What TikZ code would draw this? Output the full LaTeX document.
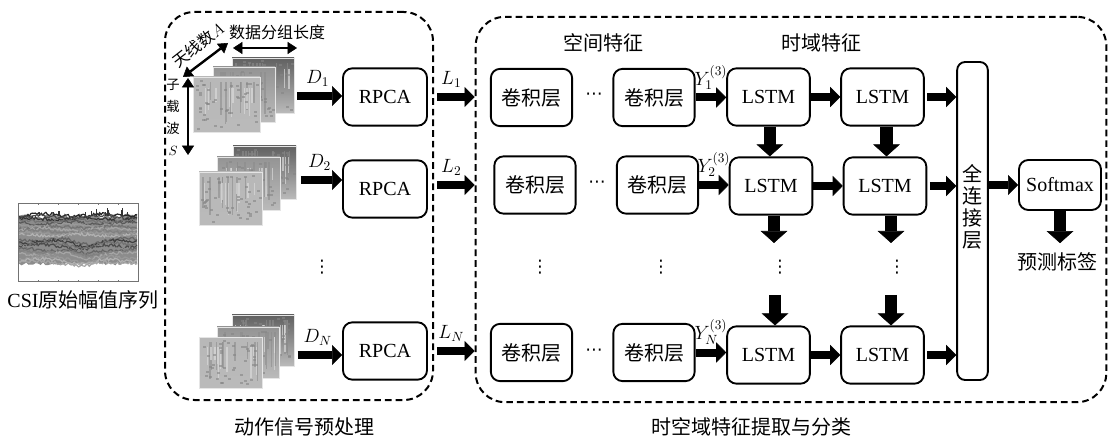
\documentclass[tikz,border=0pt]{standalone}
\usepackage{fontspec}
\setmainfont{Liberation Serif}
\newfontfamily\cjk{Noto Sans CJK SC}
\newfontfamily\symf{DejaVu Sans}
\usetikzlibrary{arrows.meta}

\tikzset{
  txt/.style={font=\fontsize{15}{18}\selectfont, inner sep=0pt},
  small/.style={font=\fontsize{12}{14}\selectfont, inner sep=0pt},
  dotsym/.style={font=\symf\fontsize{13}{15}\selectfont, inner sep=0pt},
  lbl/.style={font=\fontsize{14}{16}\selectfont, inner sep=0pt},
  rbox/.style={draw, line width=1.4pt, rounded corners=7pt, inner sep=0pt,
               font=\fontsize{15}{18}\selectfont},
  procbox/.style={rbox, minimum width=63pt, minimum height=43pt},
  convbox/.style={rbox, minimum width=61pt, minimum height=43pt},
  lstmbox/.style={rbox, minimum width=62pt, minimum height=43pt},
  dbox/.style={draw, line width=1.5pt, dash pattern=on 5pt off 3pt,
               rounded corners=22pt, inner sep=0pt},
  harr/.style={line width=6pt, -{Triangle[length=7.5pt,width=15pt,line width=0.4pt]}},
  varr/.style={line width=9.5pt, -{Triangle[length=9pt,width=20pt,line width=0.4pt]}},
  dblarr/.style={line width=1.8pt,
     {Triangle[length=7pt,width=9pt,line width=0.4pt]}-{Triangle[length=7pt,width=9pt,line width=0.4pt]}},
}

% one grey spectrogram-like panel: top-left corner (#1,#2), width #3, height #4,
% colour of its upper rows #5
\newcommand{\specpanel}[5]{%
  \shade[top color=#5, bottom color=black!27] (#1,#2) rectangle ++(#3,#4);
  \foreach \k in {1,...,9}{%
    \pgfmathsetmacro\spx{#1+3+rnd*(#3-6)}%
    \draw[black!45, line width=1.1pt, opacity=.6] (\spx,{#2+#4*0.1}) -- ++(0,{#4*(0.3+0.5*rnd)});
  }
  \foreach \k in {1,...,10}{%
    \pgfmathsetmacro\spx{#1+3+rnd*(#3-6)}%
    \draw[black!15, line width=1pt, opacity=.7] (\spx,{#2+#4*0.2}) -- ++(0,{#4*(0.2+0.5*rnd)});
  }
  \foreach \k in {1,...,45}{%
    \pgfmathsetmacro\spx{#1+2+rnd*(#3-5)}%
    \pgfmathsetmacro\spy{#2+2+rnd*(#4-5)}%
    \fill[black!48, opacity=.6] (\spx,\spy) rectangle ++(3,2);
  }
  \draw[black!10, line width=0.6pt] (#1,#2) rectangle ++(#3,#4);
}

\begin{document}
\begin{tikzpicture}[x=0.75pt, y=-0.75pt]
\useasboundingbox (0,0) rectangle (1109,441);
\pgfmathsetseed{11}

% ---------- raw CSI amplitude plot ----------
\begin{scope}
  \clip (19,204) rectangle (137,281);
  \fill[black!45] plot[domain=19:137, samples=50] (\x,{216+3*rand})
        -- plot[domain=137:19, samples=50] (\x,{264+1.5*rand}) -- cycle;
  \foreach \k/\c in {0/black!85,1/black!70,2/black!80,3/black!55,4/black!65,5/black!40,
                     6/black!55,7/black!35,8/black!50,9/black!40,10/black!30,11/black!45,
                     12/black!60,13/black!75,14/black!55,15/black!70,16/black!45,17/black!60,
                     18/black!50,19/black!35,20/black!45,21/black!40,22/black!30,23/black!35}{
    \pgfmathsetmacro\yy{215+\k*2.05}
    \draw[line width=0.9pt, color=\c]
      plot[domain=19:137, samples=80]
        (\x,{\yy+1.6*rand+(\k>11)*4*exp(-((\x-85)/14)^2)+1.2*sin(\x*6+\k*50)});
  }
  \foreach \k in {1,...,14}{
    \pgfmathsetmacro\spx{22+rnd*112}
    \draw[black!80, line width=0.8pt] (\spx,216) -- ++(0,{-3-5*rnd});
  }
\end{scope}
\node[draw=black!55, line width=0.6pt, minimum width=90pt, minimum height=59pt,
      inner sep=0pt] (csiplot) at (78,242.5) {};
\foreach \t in {38,58,78,98,118}{
  \draw[black!55, line width=0.5pt] (\t,282) -- ++(0,-2);
  \draw[black!55, line width=0.5pt] (\t,203) -- ++(0,2);
}
\node[txt] (csilab) at (83,300) {CSI{\cjk 原始幅值序列}};

% ---------- preprocessing panel ----------
\node[dbox, minimum width=201pt, minimum height=291pt] (pre) at (299,206) {};
\node[txt] (pretitle) at (304,427) {\cjk 动作信号预处理};

% stacked CSI segments
\specpanel{232}{58}{62}{55}{black!62}
\specpanel{213}{67}{62}{55}{black!42}
\specpanel{193}{77}{67}{55}{black!28}
\specpanel{233}{146}{63}{53}{black!62}
\specpanel{217}{157}{63}{53}{black!42}
\specpanel{199}{172}{63}{53}{black!28}
\specpanel{232}{315}{62}{51}{black!62}
\specpanel{217}{327}{62}{51}{black!42}
\specpanel{199}{337}{63}{51}{black!28}

\node[minimum width=75pt, minimum height=55pt, inner sep=0pt] (st1) at (243,96) {};
\node[minimum width=73pt, minimum height=59pt, inner sep=0pt] (st2) at (248,180) {};
\node[minimum width=71pt, minimum height=55pt, inner sep=0pt] (stN) at (246,355) {};

% dimension markers of a segment
\coordinate (ant1) at (183,77);  \coordinate (ant2) at (228,43);
\coordinate (len1) at (233,48);  \coordinate (len2) at (297,48);
\coordinate (sub1) at (188,78);  \coordinate (sub2) at (188,155);
\draw[dblarr] (ant1) -- (ant2);
\draw[dblarr] (len1) -- (len2);
\draw[dblarr] (sub1) -- (sub2);
\node[small, rotate=38] (antlab) at (198,45) {{\cjk 天线数}$A$};
\node[small] (lenlab) at (277,32) {\cjk 数据分组长度};
\node[font=\fontsize{10}{16.5}\selectfont, inner sep=0pt, align=center] (sublab) at (173,117)
  {{\cjk 子}\\{\cjk 载}\\{\cjk 波}\\$S$};

% RPCA blocks
\node[procbox] (r1) at (385,97) {RPCA};
\node[procbox] (r2) at (385,189) {RPCA};
\node[procbox] (rN) at (385,351) {RPCA};
\node[dotsym] (pdots) at (322,267) {⋮};

\draw[harr, shorten <=3pt] (st1.east) -- node[lbl, above=4pt] (dl1) {$D_1$} (st1.east -| r1.west);
\draw[harr, shorten <=3pt] (st2.east) -- node[lbl, above=4pt] (dl2) {$D_2$} (st2.east -| r2.west);
\draw[harr, shorten <=3pt] (stN.east) -- node[lbl, above=4pt] (dlN) {$D_N$} (stN.east -| rN.west);

% ---------- feature extraction panel ----------
\node[dbox, minimum width=473pt, minimum height=289pt] (feat) at (791,209.5) {};
\node[txt] (feattitle) at (751,427) {\cjk 时空域特征提取与分类};
\node[txt] (spat) at (603,43) {\cjk 空间特征};
\node[txt] (temp) at (821,43) {\cjk 时域特征};

\draw[harr, shorten <=7pt] (r1.east) -- node[lbl, above=4pt] (ll1) {$L_1$} (r1.east -| feat.west);
\draw[harr, shorten <=7pt] ([yshift=3pt]r2.east) -- node[lbl, above=4pt] (ll2) {$L_2$} ([yshift=3pt]r2.east -| feat.west);
\draw[harr, shorten <=7pt] (rN.east) -- node[lbl, above=4pt] (llN) {$L_N$} (rN.east -| feat.west);

% convolution layers
\node[convbox] (c11) at (531.5,97.5) {\cjk 卷积层};
\node[convbox] (c12) at (654,97.5) {\cjk 卷积层};
\node[convbox] (c21) at (535,185) {\cjk 卷积层};
\node[convbox] (c22) at (657.5,185) {\cjk 卷积层};
\node[convbox] (cN1) at (531.5,352.5) {\cjk 卷积层};
\node[convbox] (cN2) at (654,352.5) {\cjk 卷积层};
\node[dotsym] (hd1) at (594,96) {⋯};
\node[dotsym] (hd2) at (597,184) {⋯};
\node[dotsym] (hdN) at (594,352) {⋯};
\node[dotsym] (cd1) at (540,267) {⋮};
\node[dotsym] (cd2) at (661,267) {⋮};

% LSTM cells
\node[lstmbox] (m11) at (768.5,97) {LSTM};
\node[lstmbox] (m12) at (882.5,97) {LSTM};
\node[lstmbox] (m21) at (771,186) {LSTM};
\node[lstmbox] (m22) at (885,186) {LSTM};
\node[lstmbox] (mN1) at (768.5,355) {LSTM};
\node[lstmbox] (mN2) at (882.5,355) {LSTM};
\node[dotsym] (md1) at (780,267) {⋮};
\node[dotsym] (md2) at (897,267) {⋮};

\draw[harr] (c12.east) -- node[lbl, above=3pt] (y1) {$Y_1^{(3)}$} (c12.east -| m11.west);
\draw[harr] (c22.east) -- node[lbl, above=3pt] (y2) {$Y_2^{(3)}$} (c22.east -| m21.west);
\draw[harr] (cN2.east) -- node[lbl, above=3pt] (yN) {$Y_N^{(3)}$} (cN2.east -| mN1.west);

\draw[harr] (m11) -- (m12);
\draw[harr] (m21) -- (m22);
\draw[harr] (mN1) -- (mN2);

\draw[varr] ([xshift=1pt]m11.south) -- ([xshift=1pt]m11.south |- m21.north);
\draw[varr] ([xshift=3pt]m12.south) -- ([xshift=3pt]m12.south |- m22.north);
\coordinate (a1) at (774,243);  \coordinate (b1) at (775,295);
\coordinate (a2) at (891,243);  \coordinate (b2) at (891,295);
\draw[varr] (m21.south -| a1) -- (a1);
\draw[varr] (m22.south -| a2) -- (a2);
\draw[varr] (b1) -- (b1 |- mN1.north);
\draw[varr] (b2) -- (b2 |- mN2.north);

% fully connected layer and output
\node[rbox, minimum width=23pt, minimum height=238.5pt, rounded corners=6pt] (fc) at (972.5,221) {};
\node[font=\fontsize{15}{16.5}\selectfont, inner sep=0pt, align=center] (fctxt) at (972.5,207)
  {{\cjk 全}\\{\cjk 连}\\{\cjk 接}\\{\cjk 层}};
\draw[harr, shorten <=2pt] (m12.east) -- (m12.east -| fc.west);
\draw[harr, shorten <=2pt] (m22.east) -- (m22.east -| fc.west);
\draw[harr, shorten <=2pt] (mN2.east) -- (mN2.east -| fc.west);

\node[rbox, minimum width=61.5pt, minimum height=37.5pt] (sm) at (1060,185) {Softmax};
\draw[harr] (fc.east |- sm.west) -- (sm.west);
\node[txt] (pred) at (1057,262) {\cjk 预测标签};
\draw[varr, shorten >=7pt] (sm.south) -- (sm.south |- pred.north);
\end{tikzpicture}
\end{document}
